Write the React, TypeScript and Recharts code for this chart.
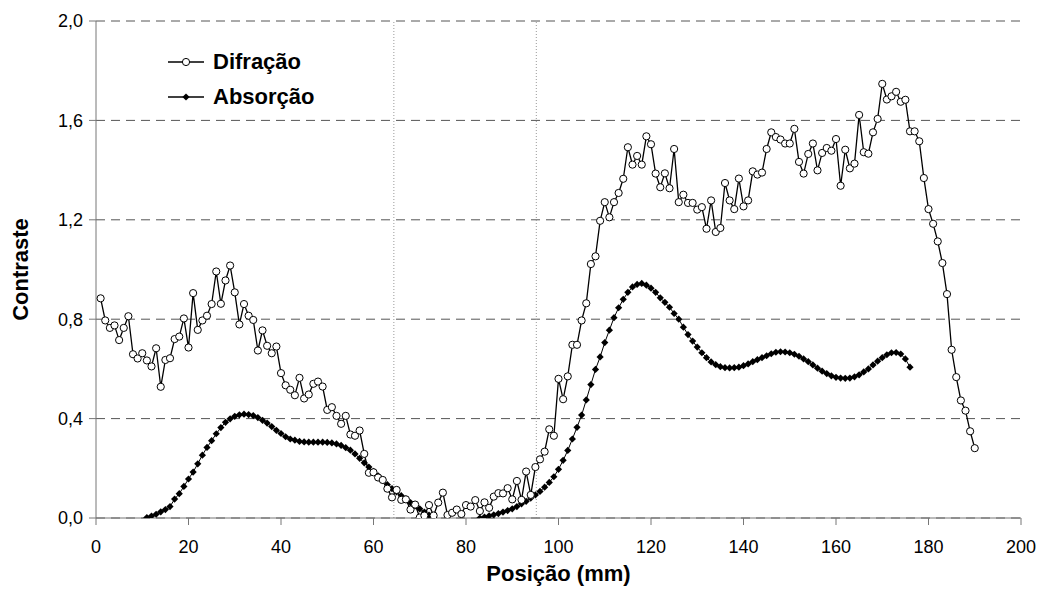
import { LineChart, Line, XAxis, YAxis, CartesianGrid, ReferenceLine, Legend } from 'recharts';

// Difração: one reading per mm, from 1 to 190 mm
const diffStart = 1;
const diffValues = [
  0.884, 0.795, 0.765, 0.775, 0.716, 0.765, 0.812, 0.659, 0.642, 0.663,
  0.634, 0.61, 0.683, 0.528, 0.636, 0.643, 0.72, 0.73, 0.803, 0.686,
  0.905, 0.757, 0.795, 0.814, 0.861, 0.992, 0.862, 0.956, 1.016, 0.908,
  0.779, 0.861, 0.814, 0.797, 0.674, 0.755, 0.693, 0.663, 0.69, 0.583,
  0.534, 0.516, 0.494, 0.564, 0.481, 0.497, 0.54, 0.549, 0.529, 0.435,
  0.446, 0.411, 0.379, 0.411, 0.336, 0.331, 0.352, 0.258, 0.182, 0.184,
  0.163, 0.153, 0.118, 0.083, 0.113, 0.073, 0.075, 0.034, 0.054, 0.002,
  0.01, 0.052, 0.01, 0.062, 0.102, 0.012, 0.021, 0.034, 0.016, 0.052,
  0.046, 0.072, 0.028, 0.063, 0.041, 0.086, 0.1, 0.099, 0.12, 0.075,
  0.149, 0.073, 0.187, 0.093, 0.205, 0.236, 0.267, 0.357, 0.331, 0.56,
  0.478, 0.57, 0.697, 0.697, 0.795, 0.864, 1.022, 1.053, 1.196, 1.271,
  1.21, 1.271, 1.308, 1.365, 1.492, 1.422, 1.457, 1.422, 1.536, 1.504,
  1.386, 1.331, 1.387, 1.327, 1.485, 1.271, 1.301, 1.268, 1.268, 1.241,
  1.251, 1.164, 1.278, 1.151, 1.167, 1.348, 1.278, 1.243, 1.366, 1.254,
  1.278, 1.395, 1.382, 1.39, 1.485, 1.552, 1.533, 1.523, 1.507, 1.507,
  1.566, 1.433, 1.386, 1.465, 1.507, 1.399, 1.469, 1.489, 1.478, 1.525,
  1.337, 1.482, 1.407, 1.426, 1.622, 1.472, 1.466, 1.552, 1.606, 1.747,
  1.684, 1.697, 1.715, 1.675, 1.683, 1.556, 1.556, 1.516, 1.368, 1.243,
  1.184, 1.113, 1.026, 0.901, 0.677, 0.567, 0.473, 0.432, 0.349, 0.281,
];

// Absorção: one reading per mm, from 2 to 176 mm
const absStart = 2;
const absValues = [
  -0.02, -0.018, -0.016, -0.014, -0.012, -0.01, -0.007, -0.005, -0.002,
  0.002, 0.008, 0.015, 0.025, 0.034, 0.046, 0.076, 0.098, 0.127, 0.157,
  0.185, 0.218, 0.253, 0.284, 0.311, 0.339, 0.364, 0.385, 0.399, 0.409,
  0.415, 0.418, 0.416, 0.412, 0.404, 0.393, 0.382, 0.368, 0.353, 0.34,
  0.327, 0.318, 0.313, 0.308, 0.306, 0.305, 0.305, 0.305, 0.305, 0.304,
  0.302, 0.298, 0.292, 0.283, 0.273, 0.258, 0.24, 0.222, 0.205, 0.188,
  0.17, 0.152, 0.134, 0.118, 0.105, 0.09, 0.077, 0.062, 0.049, 0.037,
  0.024, 0.012, 0.001, -0.004, -0.007, -0.011, -0.013, -0.015, -0.014, -0.012,
  -0.008, -0.004, 0.0, 0.004, 0.009, 0.013, 0.018, 0.024, 0.03, 0.037,
  0.046, 0.057, 0.067, 0.08, 0.093, 0.107, 0.124, 0.143, 0.166, 0.196,
  0.232, 0.272, 0.318, 0.365, 0.414, 0.475, 0.537, 0.598, 0.648, 0.706,
  0.756, 0.806, 0.846, 0.88, 0.908, 0.93, 0.94, 0.944, 0.937, 0.925,
  0.908, 0.886, 0.868, 0.848, 0.823, 0.8, 0.768, 0.738, 0.712, 0.688,
  0.665, 0.645, 0.628, 0.617, 0.609, 0.605, 0.604, 0.605, 0.607, 0.613,
  0.62, 0.629, 0.637, 0.645, 0.653, 0.661, 0.667, 0.669, 0.668, 0.665,
  0.659, 0.651, 0.64, 0.629, 0.616, 0.603, 0.591, 0.581, 0.572, 0.566,
  0.563, 0.562, 0.563, 0.568, 0.576, 0.588, 0.6, 0.616, 0.631, 0.645,
  0.657, 0.665, 0.666, 0.66, 0.64, 0.607,
];

const xTicks = [0, 20, 40, 60, 80, 100, 120, 140, 160, 180, 200];
const yTicks = [0, 0.4, 0.8, 1.2, 1.6, 2.0];
const markerLines = [64.4, 95.2];

const diffData = diffValues.map((y, i) => ({ x: diffStart + i, y }));
const absData = absValues.map((y, i) => ({ x: absStart + i, y }));

const font = '"Liberation Sans", Arial, sans-serif';
const fmt = (v: number) => v.toFixed(1).replace('.', ',');

const CircleDot = (props: any) => {
  const { cx, cy, index } = props;
  if (cx == null || cy == null) return <g key={`d-${index}`} />;
  return <circle key={`d-${index}`} cx={cx} cy={cy} r={3.6} fill="#fff" stroke="#000" strokeWidth={1} />;
};

const DiamondDot = (props: any) => {
  const { cx, cy, index, value } = props;
  if (cx == null || cy == null || value < 0) return <g key={`a-${index}`} />;
  const s = 3.6;
  return (
    <path
      key={`a-${index}`}
      d={`M${cx},${cy - s}L${cx + s},${cy}L${cx},${cy + s}L${cx - s},${cy}Z`}
      fill="#000"
    />
  );
};

const LegendBox = () => (
  <div style={{ fontFamily: font, fontWeight: 'bold', fontSize: 22, color: '#000' }}>
    <div style={{ display: 'flex', alignItems: 'center', height: 35 }}>
      <svg width={38} height={12}>
        <line x1={0} y1={6} x2={36} y2={6} stroke="#000" strokeWidth={1.3} />
        <circle cx={18} cy={6} r={3.6} fill="#fff" stroke="#000" />
      </svg>
      <span style={{ marginLeft: 7 }}>Difração</span>
    </div>
    <div style={{ display: 'flex', alignItems: 'center', height: 35 }}>
      <svg width={38} height={12}>
        <line x1={0} y1={6} x2={36} y2={6} stroke="#000" strokeWidth={1.3} />
        <path d="M18,2.4L21.6,6L18,9.6L14.4,6Z" fill="#000" />
      </svg>
      <span style={{ marginLeft: 7 }}>Absorção</span>
    </div>
  </div>
);

export default function App() {
  return (
    <div style={{ fontFamily: font }}>
      <LineChart width={1032} height={579} margin={{ top: 13, right: 19, left: 0, bottom: 0 }}>
        <CartesianGrid vertical={false} stroke="#555" strokeDasharray="9 6" />
        <XAxis
          type="number"
          dataKey="x"
          domain={[0, 200]}
          ticks={xTicks}
          height={69}
          tickSize={7}
          tickMargin={15}
          stroke="#777"
          tick={{ fill: '#000', fontSize: 18, fontFamily: font }}
          label={{
            value: 'Posição (mm)',
            position: 'insideBottom',
            offset: 6,
            style: { fontSize: 22, fontWeight: 'bold', fill: '#000', fontFamily: font },
          }}
        />
        <YAxis
          type="number"
          domain={[0, 2]}
          ticks={yTicks}
          allowDataOverflow
          width={88}
          tickSize={7}
          tickMargin={6}
          stroke="#777"
          tickFormatter={fmt}
          tick={{ fill: '#000', fontSize: 18, fontFamily: font }}
          label={{
            value: 'Contraste',
            angle: -90,
            position: 'insideLeft',
            offset: 12,
            style: { textAnchor: 'middle', fontSize: 22, fontWeight: 'bold', fill: '#000', fontFamily: font },
          }}
        />
        {markerLines.map((x) => (
          <ReferenceLine key={x} x={x} stroke="#999" strokeDasharray="1 2" />
        ))}
        <Legend
          layout="vertical"
          verticalAlign="middle"
          align="center"
          content={<LegendBox />}
          wrapperStyle={{ left: 160, top: 36, width: 'auto' }}
        />
        <Line
          data={absData}
          dataKey="y"
          name="Absorção"
          stroke="#000"
          strokeWidth={1}
          dot={DiamondDot}
          activeDot={false}
          isAnimationActive={false}
        />
        <Line
          data={diffData}
          dataKey="y"
          name="Difração"
          stroke="#000"
          strokeWidth={1.3}
          dot={CircleDot}
          activeDot={false}
          isAnimationActive={false}
        />
      </LineChart>
    </div>
  );
}
